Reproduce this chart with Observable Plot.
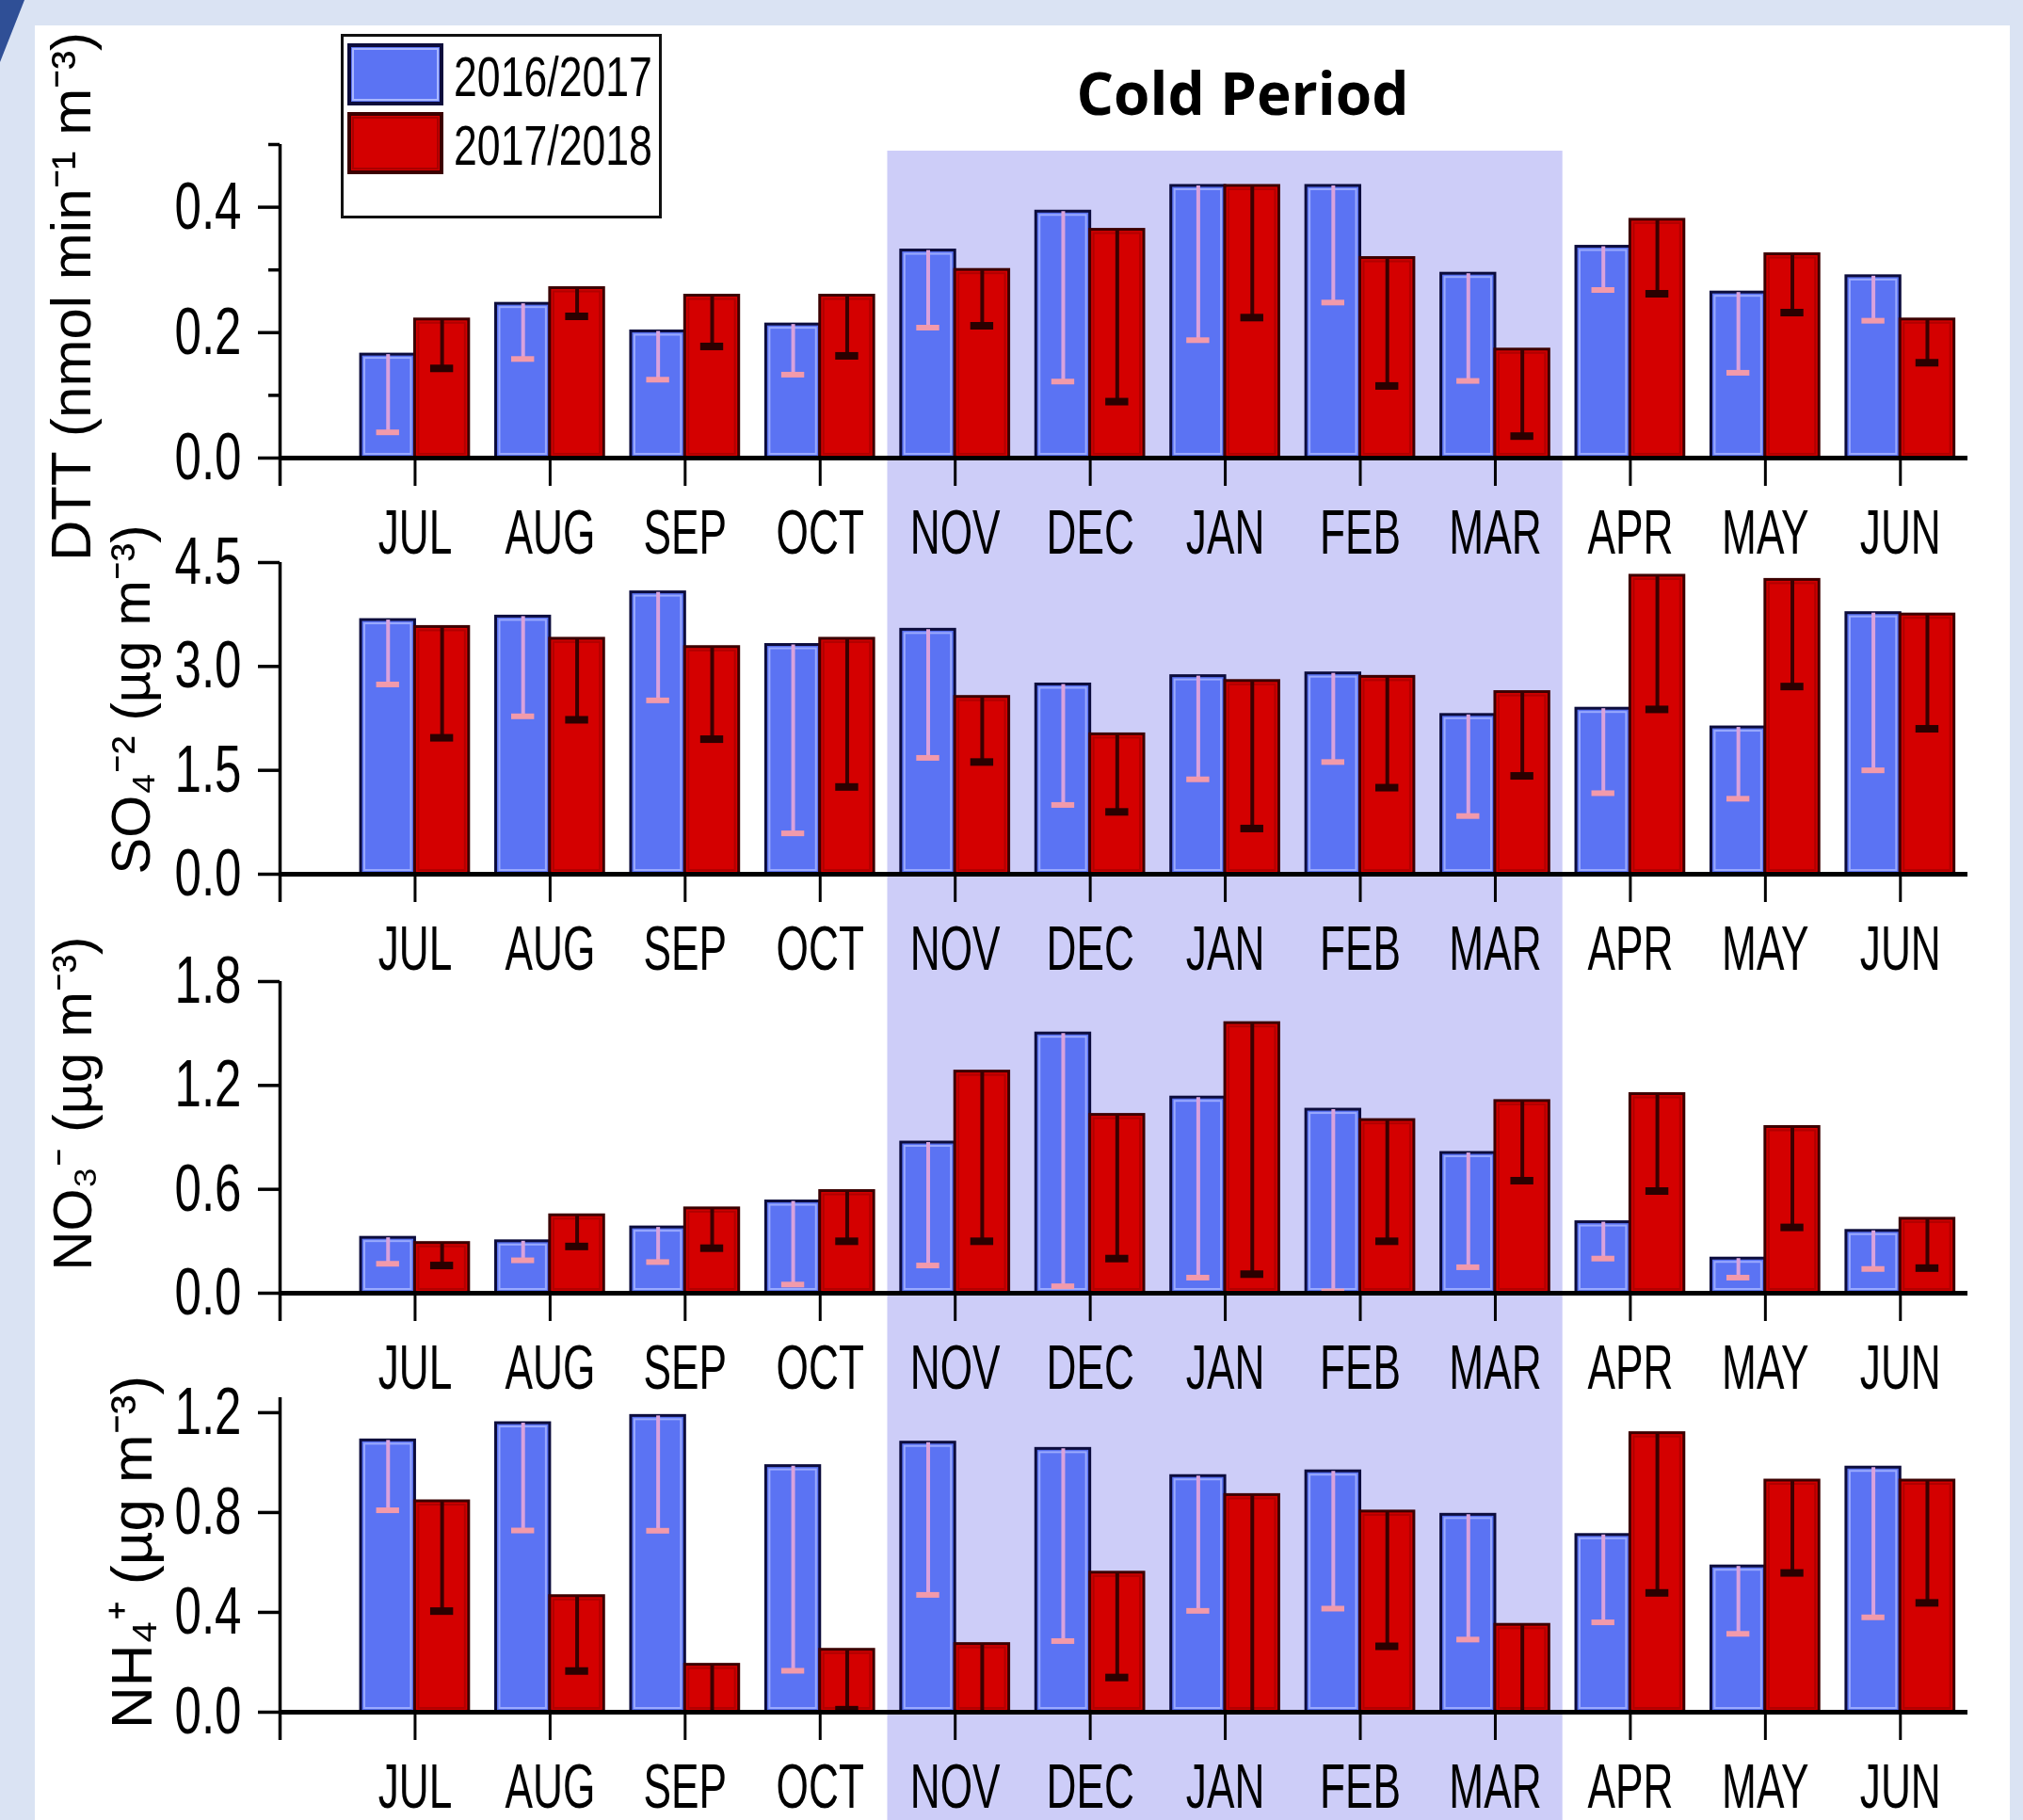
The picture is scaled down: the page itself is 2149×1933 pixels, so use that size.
<!DOCTYPE html>
<html>
<head>
<meta charset="utf-8">
<script src="https://cdn.jsdelivr.net/npm/d3@7"></script>
<script src="https://cdn.jsdelivr.net/npm/@observablehq/plot@0.6"></script>
<style>
  html, body { margin: 0; padding: 0; background: #dae3f3; }
  #wrap { position: relative; width: 2149px; height: 1933px; overflow: hidden; background: #dae3f3; }
  #paper { position: absolute; left: 37px; top: 27px; width: 2098px; height: 1906px; background: #ffffff; }
  #deco { position: absolute; left: 0; top: 0; width: 26px; height: 66px; background: #2f4f96;
          clip-path: polygon(0 0, 100% 0, 0 100%); }
  .chart { position: absolute; left: 0; width: 2149px; }
  .chart svg { overflow: visible; }
  #overlay { position: absolute; left: 0; top: 0; overflow: visible; }
  #legend { position: absolute; left: 362px; top: 36px; width: 341px; height: 196px;
            box-sizing: border-box; border: 3px solid #111; background: #fff; overflow: visible; }
  #legend svg { overflow: visible; display: block; }
</style>
</head>
<body>
<div id="wrap">
  <div id="paper"></div>
  <div id="deco"></div>
  <div id="charts"></div>
  <svg id="overlay" width="2149" height="200"></svg>
  <div id="legend"></div>
</div>
<script>
// ---------------- data ----------------
const months = ["JUL", "AUG", "SEP", "OCT", "NOV", "DEC", "JAN", "FEB", "MAR", "APR", "MAY", "JUN"];
const years = ["2016/2017", "2017/2018"];
const coldPeriod = ["NOV", "MAR"];
const coldTitle = "Cold Period";

// DTT (nmol min-1 m-3): mean and lower error (sd)
const dtt1617   = [0.165, 0.246, 0.202, 0.213, 0.331, 0.393, 0.434, 0.434, 0.294, 0.337, 0.264, 0.290];
const dtt1617Sd = [0.124, 0.088, 0.077, 0.080, 0.123, 0.271, 0.246, 0.186, 0.171, 0.069, 0.128, 0.071];
const dtt1718   = [0.221, 0.271, 0.259, 0.259, 0.300, 0.364, 0.434, 0.319, 0.173, 0.380, 0.325, 0.221];
const dtt1718Sd = [0.078, 0.045, 0.081, 0.096, 0.089, 0.274, 0.210, 0.204, 0.138, 0.118, 0.093, 0.069];

// SO4 2- (ug m-3)
const so41617   = [3.67, 3.72, 4.07, 3.31, 3.53, 2.74, 2.86, 2.90, 2.30, 2.39, 2.12, 3.77];
const so41617Sd = [0.93, 1.44, 1.56, 2.72, 1.85, 1.74, 1.49, 1.28, 1.46, 1.22, 1.03, 2.27];
const so41718   = [3.57, 3.40, 3.28, 3.40, 2.56, 2.02, 2.79, 2.85, 2.63, 4.31, 4.25, 3.75];
const so41718Sd = [1.60, 1.17, 1.33, 2.14, 0.94, 1.12, 2.13, 1.60, 1.21, 1.93, 1.54, 1.65];

// NO3- (ug m-3)
const no31617   = [0.32, 0.30, 0.38, 0.53, 0.87, 1.50, 1.13, 1.06, 0.81, 0.41, 0.20, 0.36];
const no31617Sd = [0.15, 0.11, 0.20, 0.48, 0.71, 1.46, 1.04, 1.05, 0.66, 0.21, 0.11, 0.22];
const no31718   = [0.29, 0.45, 0.49, 0.59, 1.28, 1.03, 1.56, 1.00, 1.11, 1.15, 0.96, 0.43];
const no31718Sd = [0.13, 0.18, 0.23, 0.29, 0.98, 0.83, 1.45, 0.70, 0.46, 0.56, 0.58, 0.285];

// NH4+ (ug m-3)
const nh41617   = [1.089, 1.158, 1.187, 0.986, 1.080, 1.055, 0.946, 0.965, 0.791, 0.710, 0.584, 0.980];
const nh41617Sd = [0.28, 0.43, 0.46, 0.82, 0.61, 0.77, 0.54, 0.55, 0.50, 0.35, 0.27, 0.60];
const nh41718   = [0.845, 0.465, 0.190, 0.250, 0.273, 0.559, 0.870, 0.804, 0.350, 1.118, 0.928, 0.928];
const nh41718Sd = [0.44, 0.30, 0.19, 0.24, 0.273, 0.42, 0.87, 0.54, 0.35, 0.64, 0.37, 0.49];

// y-axis tick values and titles
const dttTicks = [0, 0.2, 0.4], dttMinor = [0.1, 0.3, 0.5];
const so4Ticks = [0, 1.5, 3.0, 4.5];
const no3Ticks = [0, 0.6, 1.2, 1.8];
const nh4Ticks = [0, 0.4, 0.8, 1.2];
const labels = ["DTT (nmol min\u207B\u00B9 m\u207B\u00B3)", "SO\u2084\u207B\u00B2 (\u00B5g m\u207B\u00B3)",
                "NO\u2083\u207B (\u00B5g m\u207B\u00B3)", "NH\u2084\u207A (\u00B5g m\u207B\u00B3)"];

// ---------------- styling ----------------
const FONT = "'Liberation Sans', Arial, Helvetica, sans-serif";
const sty = [
  {fill: "#5b73f3", edge: "#0c0c3c", inner: "#a9b7ff", err: "#d9a2dc", cap: "#f29aab", capW: 6},
  {fill: "#d40000", edge: "#3c0000", inner: "#a80000", err: "#3a0000", cap: "#2a0000", capW: 8}
];

function rowsOf(a, aSd, b, bSd) {
  const out = [];
  months.forEach((m, i) => {
    out.push({i: i + 1, month: m, year: years[0], mean: a[i], sd: aSd[i], off: -0.2});
    out.push({i: i + 1, month: m, year: years[1], mean: b[i], sd: bSd[i], off: 0.2});
  });
  return out;
}

const panels = [
  {rows: rowsOf(dtt1617, dtt1617Sd, dtt1718, dtt1718Sd), domain: [0, 0.5], ticks: dttTicks, minor: dttMinor,
   label: labels[0], top: 0, height: 596, mt: 153, mb: 110, shadeTop: 7, lx: 76, ldy: -5, lsize: 60},
  {rows: rowsOf(so41617, so41617Sd, so41718, so41718Sd), domain: [0, 4.5], ticks: so4Ticks, minor: null,
   label: labels[1], top: 596, height: 444, mt: 1, mb: 112, shadeTop: -1, lx: 140, ldy: -20, lsize: 58},
  {rows: rowsOf(no31617, no31617Sd, no31718, no31718Sd), domain: [0, 1.8], ticks: no3Ticks, minor: null,
   label: labels[2], top: 1040, height: 442, mt: 2, mb: 109, shadeTop: -2, lx: 78, ldy: -36, lsize: 58},
  {rows: rowsOf(nh41617, nh41617Sd, nh41718, nh41718Sd), domain: [0, 1.26], ticks: nh4Ticks, minor: null,
   label: labels[3], top: 1482, height: 451, mt: 2, mb: 115, shadeTop: -2, lx: 141, ldy: -3, lsize: 62}
];

const ML = 297, MR = 59, W = 2149;
const shade = [{x1: months.indexOf(coldPeriod[0]) + 0.5, x2: months.indexOf(coldPeriod[1]) + 1.5}];

function squeeze(t, k) {
  const L = t.getComputedTextLength();
  if (L > 0) {
    t.setAttribute("textLength", (L * k).toFixed(1));
    t.setAttribute("lengthAdjust", "spacingAndGlyphs");
  }
}

const host = document.getElementById("charts");
panels.forEach(p => {
  const marks = [
    Plot.rect(shade, {x1: "x1", x2: "x2", fill: "#cdcdf8", insetTop: p.shadeTop, insetBottom: -p.mb})
  ];
  years.forEach((yr, j) => {
    const s = sty[j];
    const data = p.rows.filter(d => d.year === yr);
    marks.push(
      Plot.rectY(data, {x1: d => d.i + d.off - 0.2, x2: d => d.i + d.off + 0.2, y: "mean",
                        fill: s.fill, stroke: s.edge, strokeWidth: 3}),
      Plot.rectY(data, {x1: d => d.i + d.off - 0.2, x2: d => d.i + d.off + 0.2, y: "mean",
                        fill: "none", stroke: s.inner, strokeWidth: 2, inset: 4, strokeOpacity: 0.8}),
      Plot.ruleX(data, {x: d => d.i + d.off, y1: d => Math.max(0, d.mean - d.sd), y2: "mean",
                        stroke: s.err, strokeWidth: 4}),
      Plot.ruleY(data.filter(d => d.mean - d.sd > 0.005),
                 {y: d => d.mean - d.sd, x1: d => d.i + d.off - 0.085,
                  x2: d => d.i + d.off + 0.085, stroke: s.cap, strokeWidth: s.capW})
    );
  });
  marks.push(
    Plot.ruleY([0], {stroke: "#000", strokeWidth: 5}),
    Plot.ruleX([0], {stroke: "#000", strokeWidth: 3.5, insetBottom: -30}),
    Plot.axisY({ticks: p.ticks, tickFormat: d3.format(".1f"), tickSize: 23, tickPadding: 18,
                fontSize: 70, strokeWidth: 3.5, label: null, anchor: "left"}),
    Plot.axisX({ticks: d3.range(1, 13), tickFormat: i => months[i - 1], tickSize: 30, tickPadding: 25,
                fontSize: 66, strokeWidth: 3, label: null, anchor: "bottom"}),
    Plot.text([p.label], {text: d => d, frameAnchor: "left", rotate: -90, dx: p.lx - ML, dy: p.ldy,
                          fontSize: p.lsize, textAnchor: "middle", lineAnchor: "middle", fill: "#000"})
  );
  if (p.minor) {
    marks.push(Plot.axisY({ticks: p.minor, tickFormat: () => "", tickSize: 12, tickPadding: 0,
                           strokeWidth: 3.5, label: null, anchor: "left"}));
  }
  const svg = Plot.plot({
    width: W, height: p.height, marginTop: p.mt, marginBottom: p.mb, marginLeft: ML, marginRight: MR,
    x: {type: "linear", domain: [0, 12.5], axis: null},
    y: {type: "linear", domain: p.domain, axis: null, label: null},
    style: {background: "transparent", overflow: "visible", fontFamily: FONT, color: "#000"},
    marks
  });
  const div = document.createElement("div");
  div.className = "chart";
  div.style.top = p.top + "px";
  div.appendChild(svg);
  host.appendChild(div);
  svg.querySelectorAll("text").forEach(t => {
    const s = t.textContent.trim();
    if (months.includes(s)) squeeze(t, 0.67);
    else if (/^\d\.\d$/.test(s)) squeeze(t, 0.73);
  });
});

// ---------------- title ----------------
const NS = "http://www.w3.org/2000/svg";
const ov = document.getElementById("overlay");
const tt = document.createElementNS(NS, "text");
tt.textContent = coldTitle;
tt.setAttribute("x", 1320);
tt.setAttribute("y", 122);
tt.setAttribute("text-anchor", "middle");
tt.setAttribute("font-family", "'Open Sans', Lato, sans-serif");
tt.setAttribute("font-weight", "bold");
tt.setAttribute("font-size", 62);
tt.setAttribute("textLength", 353);
tt.setAttribute("lengthAdjust", "spacingAndGlyphs");
ov.appendChild(tt);

// ---------------- legend ----------------
const lg = document.getElementById("legend");
const ls = document.createElementNS(NS, "svg");
ls.setAttribute("width", 335);
ls.setAttribute("height", 190);
lg.appendChild(ls);
years.forEach((yr, j) => {
  const s = sty[j];
  const y0 = 9 + j * 73;
  const r = document.createElementNS(NS, "rect");
  r.setAttribute("x", 6); r.setAttribute("y", y0); r.setAttribute("width", 98); r.setAttribute("height", 62);
  r.setAttribute("fill", s.fill); r.setAttribute("stroke", s.edge); r.setAttribute("stroke-width", 4);
  ls.appendChild(r);
  const r2 = document.createElementNS(NS, "rect");
  r2.setAttribute("x", 10); r2.setAttribute("y", y0 + 4); r2.setAttribute("width", 90); r2.setAttribute("height", 54);
  r2.setAttribute("fill", "none"); r2.setAttribute("stroke", s.inner); r2.setAttribute("stroke-width", 2);
  ls.appendChild(r2);
  const t = document.createElementNS(NS, "text");
  t.textContent = yr;
  t.setAttribute("x", 0);
  t.setAttribute("y", 0);
  t.setAttribute("font-family", FONT);
  t.setAttribute("font-size", 60);
  ls.appendChild(t);
  const L = t.getComputedTextLength() || 283;
  t.setAttribute("transform", `translate(117,${y0 + 54}) scale(${(211 / L).toFixed(4)},1)`);
});
</script>
</body>
</html>
